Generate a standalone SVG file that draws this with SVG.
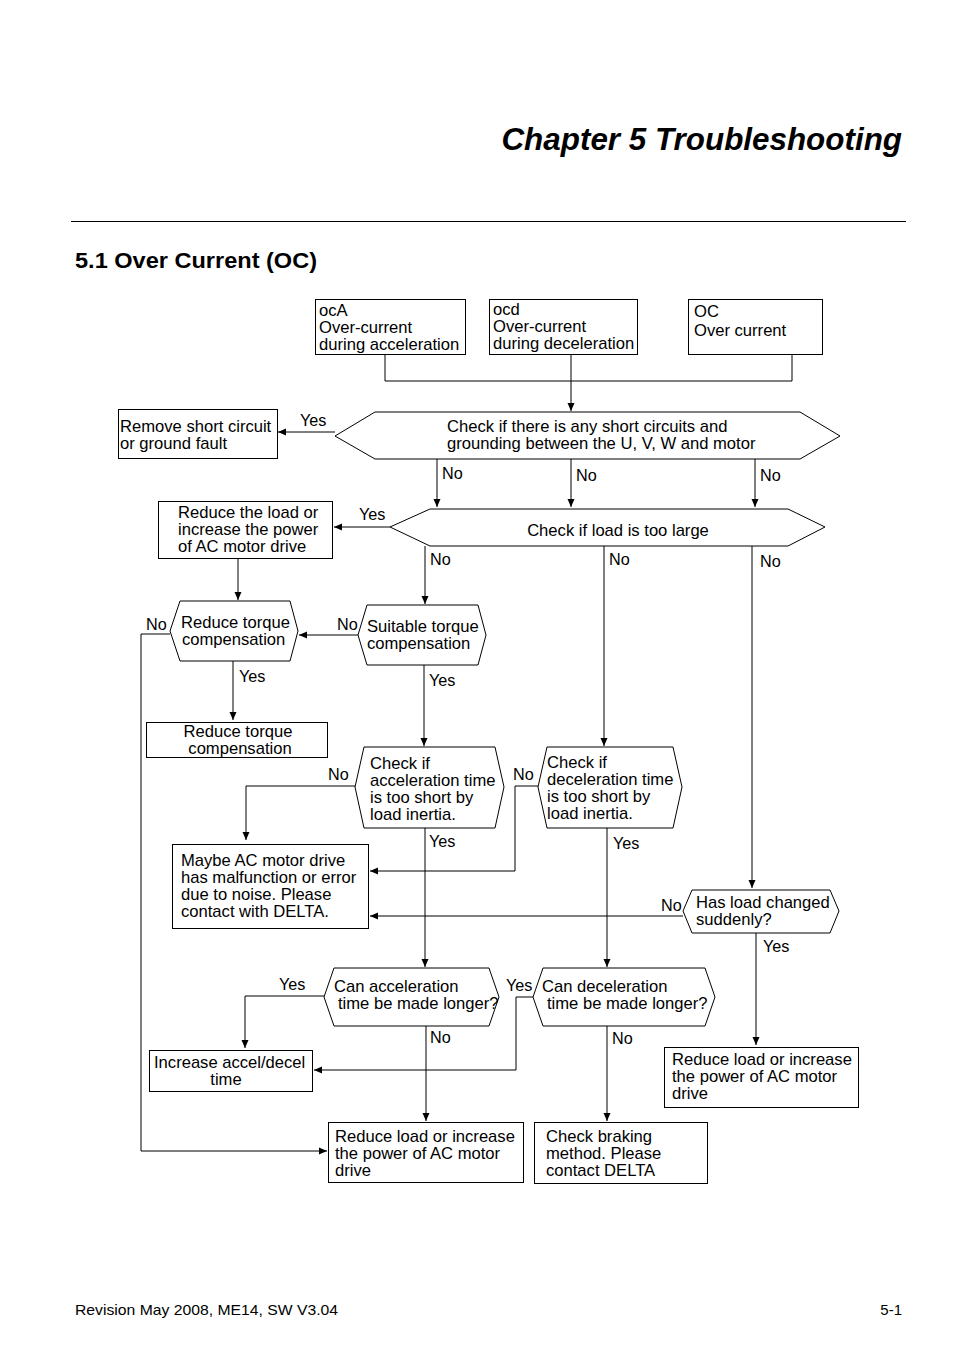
<svg xmlns="http://www.w3.org/2000/svg" width="954" height="1357" viewBox="0 0 954 1357">
<defs>
<marker id="ah" markerWidth="8" markerHeight="8" refX="8" refY="4" orient="auto" markerUnits="userSpaceOnUse">
<path d="M0,0.5 L8,4 L0,7.5 Z" fill="#000"/>
</marker>
</defs>
<style>
.t{font-family:"Liberation Sans",Arial,sans-serif;font-size:16.6px;fill:#000}
.lb{font-family:"Liberation Sans",Arial,sans-serif;font-size:16.2px;fill:#000}
.box{fill:#fff;stroke:#000;stroke-width:1}
.c{fill:none;stroke:#000;stroke-width:1}
.a{fill:none;stroke:#000;stroke-width:1;marker-end:url(#ah)}
</style>
<rect width="954" height="1357" fill="#fff"/>
<g id="header">
<text x="902" y="150" font-family="Liberation Sans,Arial,sans-serif" font-size="31.4" font-weight="bold" font-style="italic" text-anchor="end">Chapter 5 Troubleshooting</text>
<line x1="71" y1="221.5" x2="906" y2="221.5" stroke="#000" stroke-width="1.2"/>
<text x="75" y="268" font-family="Liberation Sans,Arial,sans-serif" font-size="22.5" font-weight="bold" textLength="242" lengthAdjust="spacingAndGlyphs">5.1 Over Current (OC)</text>
</g>
<g id="footer">
<text x="75" y="1315" font-family="Liberation Sans,Arial,sans-serif" font-size="15" textLength="263" lengthAdjust="spacingAndGlyphs">Revision May 2008, ME14, SW V3.04</text>
<text x="902" y="1315" font-family="Liberation Sans,Arial,sans-serif" font-size="15" text-anchor="end">5-1</text>
</g>
<g id="connectors">
<path class="c" d="M385,354 V381 H792 V354"/>
<path class="a" d="M571,354 V411"/>
<path class="a" d="M335,432 H278"/>
<path class="a" d="M437,459 V507"/>
<path class="a" d="M571,459 V507"/>
<path class="a" d="M755,459 V507"/>
<path class="a" d="M390,527 H334"/>
<path class="a" d="M238,558 V600"/>
<path class="a" d="M425,546 V604"/>
<path class="a" d="M604,546 V746"/>
<path class="a" d="M752,546 V888"/>
<path class="a" d="M358,635 H299"/>
<path class="a" d="M170,634 H141 V1151 H327"/>
<path class="a" d="M233,661 V720"/>
<path class="a" d="M424,665 V746"/>
<path class="a" d="M355,786 H246 V840"/>
<path class="a" d="M538,786 H515 V871 H370"/>
<path class="a" d="M425,828 V967"/>
<path class="a" d="M607,828 V967"/>
<path class="a" d="M683,916 H370"/>
<path class="a" d="M756,933 V1045"/>
<path class="a" d="M324,996 H245 V1048"/>
<path class="a" d="M533,997 H516 V1070 H314"/>
<path class="a" d="M426,1026 V1121"/>
<path class="a" d="M607,1026 V1121"/>
</g>
<g id="labels">
<text class="lb" x="300" y="426">Yes</text>
<text class="lb" x="442" y="479">No</text>
<text class="lb" x="576" y="481">No</text>
<text class="lb" x="760" y="481">No</text>
<text class="lb" x="359" y="520">Yes</text>
<text class="lb" x="430" y="565">No</text>
<text class="lb" x="609" y="565">No</text>
<text class="lb" x="760" y="567">No</text>
<text class="lb" x="337" y="630">No</text>
<text class="lb" x="146" y="630">No</text>
<text class="lb" x="239" y="682">Yes</text>
<text class="lb" x="429" y="686">Yes</text>
<text class="lb" x="328" y="780">No</text>
<text class="lb" x="513" y="780">No</text>
<text class="lb" x="429" y="847">Yes</text>
<text class="lb" x="613" y="849">Yes</text>
<text class="lb" x="661" y="911">No</text>
<text class="lb" x="763" y="952">Yes</text>
<text class="lb" x="279" y="990">Yes</text>
<text class="lb" x="506" y="991">Yes</text>
<text class="lb" x="430" y="1043">No</text>
<text class="lb" x="612" y="1044">No</text>
</g>
<g id="n-oca">
<rect class="box" x="315.5" y="299.5" width="150" height="55"/>
<text class="t" x="319" y="316" font-size="18">ocA</text>
<text class="t" x="319" y="333">Over-current</text>
<text class="t" x="319" y="350">during acceleration</text>
</g>
<g id="n-ocd">
<rect class="box" x="489.5" y="299.5" width="148" height="55"/>
<text class="t" x="493" y="315" font-size="18">ocd</text>
<text class="t" x="493" y="332">Over-current</text>
<text class="t" x="493" y="349">during deceleration</text>
</g>
<g id="n-oc">
<rect class="box" x="688.5" y="299.5" width="134" height="55"/>
<text class="t" x="694" y="317" font-size="18">OC</text>
<text class="t" x="694" y="336">Over current</text>
</g>
<g id="n-short">
<polygon class="box" points="335,436 375,412 800,412 840,436 800,459 375,459"/>
<text class="t" x="447" y="432">Check if there is any short circuits and</text>
<text class="t" x="447" y="449">grounding between the U, V, W and motor</text>
</g>
<g id="n-remove">
<rect class="box" x="118.5" y="409.5" width="159" height="49"/>
<text class="t" x="120" y="432">Remove short circuit</text>
<text class="t" x="120" y="449">or ground fault</text>
</g>
<g id="n-load">
<polygon class="box" points="390,527 430,509 788,509 825,527 788,546 430,546"/>
<text class="t" x="618" y="536" text-anchor="middle">Check if load is too large</text>
</g>
<g id="n-reduce-load1">
<rect class="box" x="158.5" y="501.5" width="174" height="57"/>
<text class="t" x="178" y="518">Reduce the load or</text>
<text class="t" x="178" y="535">increase the power</text>
<text class="t" x="178" y="552">of AC motor drive</text>
</g>
<g id="n-reduce-torque">
<polygon class="box" points="170,631 180,601 290,601 298,631 290,661 180,661"/>
<text class="t" x="181" y="628">Reduce torque</text>
<text class="t" x="182" y="645">compensation</text>
</g>
<g id="n-suitable">
<polygon class="box" points="358,635 367,605 478,605 486,635 478,665 367,665"/>
<text class="t" x="367" y="632">Suitable torque</text>
<text class="t" x="367" y="649">compensation</text>
</g>
<g id="n-reduce-torque-box">
<rect class="box" x="146.5" y="722.5" width="181" height="35" stroke="#555"/>
<text class="t" x="238" y="737" text-anchor="middle">Reduce torque</text>
<text class="t" x="240" y="754" text-anchor="middle">compensation</text>
</g>
<g id="n-accel-short">
<polygon class="box" points="355,787 364,747 495,747 504,787 495,828 364,828"/>
<text class="t" x="370" y="769">Check if</text>
<text class="t" x="370" y="786">acceleration time</text>
<text class="t" x="370" y="803">is too short by</text>
<text class="t" x="370" y="820">load inertia.</text>
</g>
<g id="n-decel-short">
<polygon class="box" points="538,787 547,747 673,747 682,787 673,828 547,828"/>
<text class="t" x="547" y="768">Check if</text>
<text class="t" x="547" y="785">deceleration time</text>
<text class="t" x="547" y="802">is too short by</text>
<text class="t" x="547" y="819">load inertia.</text>
</g>
<g id="n-maybe">
<rect class="box" x="172.5" y="844.5" width="196" height="84"/>
<text class="t" x="181" y="866">Maybe AC motor drive</text>
<text class="t" x="181" y="883">has  malfunction or error</text>
<text class="t" x="181" y="900">due to noise. Please</text>
<text class="t" x="181" y="917">contact with DELTA.</text>
</g>
<g id="n-changed">
<polygon class="box" points="683,911 692,890 830,890 839,911 830,933 692,933"/>
<text class="t" x="696" y="908">Has load changed</text>
<text class="t" x="696" y="925">suddenly?</text>
</g>
<g id="n-reduce-load3">
<rect class="box" x="664.5" y="1047.5" width="194" height="60"/>
<text class="t" x="672" y="1065">Reduce load or increase</text>
<text class="t" x="672" y="1082">the power of AC motor</text>
<text class="t" x="672" y="1099">drive</text>
</g>
<g id="n-can-accel">
<polygon class="box" points="324,997 334,968 489,968 499,997 489,1026 334,1026"/>
<text class="t" x="334" y="992">Can acceleration</text>
<text class="t" x="338" y="1009">time be made longer?</text>
</g>
<g id="n-can-decel">
<polygon class="box" points="533,997 543,968 705,968 715,997 705,1026 543,1026"/>
<text class="t" x="542" y="992">Can deceleration</text>
<text class="t" x="547" y="1009">time be made longer?</text>
</g>
<g id="n-increase">
<rect class="box" x="149.5" y="1050.5" width="163" height="41"/>
<text class="t" x="154" y="1068">Increase accel/decel</text>
<text class="t" x="226" y="1085" text-anchor="middle">time</text>
</g>
<g id="n-reduce-load2">
<rect class="box" x="328.5" y="1122.5" width="195" height="60"/>
<text class="t" x="335" y="1142">Reduce load or increase</text>
<text class="t" x="335" y="1159">the power of AC motor</text>
<text class="t" x="335" y="1176">drive</text>
</g>
<g id="n-braking">
<rect class="box" x="534.5" y="1122.5" width="173" height="61"/>
<text class="t" x="546" y="1142">Check braking</text>
<text class="t" x="546" y="1159">method. Please</text>
<text class="t" x="546" y="1176">contact DELTA</text>
</g>
</svg>
